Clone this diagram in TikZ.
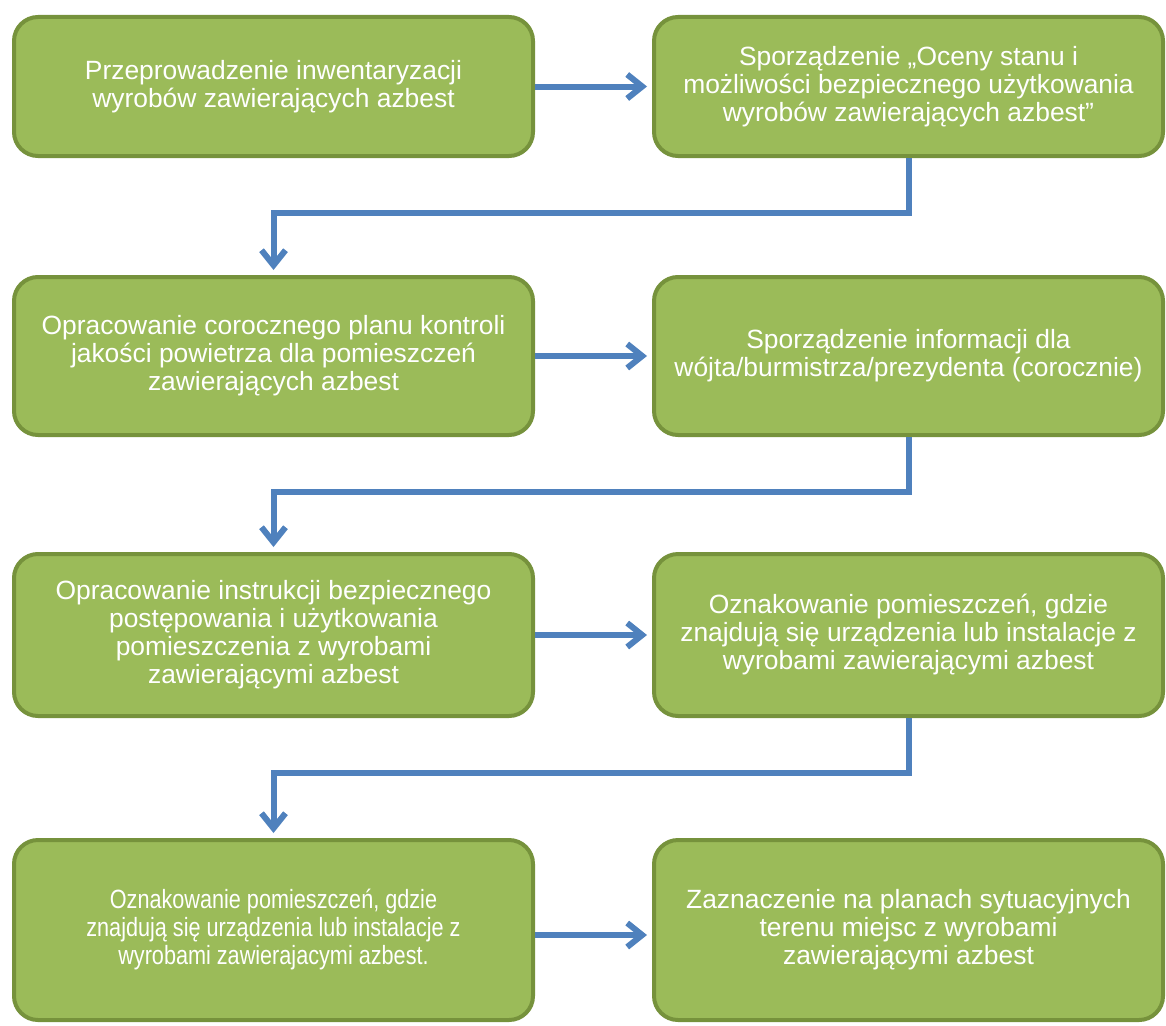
\documentclass[tikz,border=0pt]{standalone}
\usepackage{fontspec}
\setmainfont{Liberation Sans}
\newfontfamily\narrowfont[FakeStretch=0.82]{Liberation Sans}
\usetikzlibrary{arrows.meta}

\definecolor{boxfill}{HTML}{9BBB59}
\definecolor{boxline}{HTML}{76923C}
\definecolor{arrblue}{HTML}{4F81BD}

\begin{document}
\begin{tikzpicture}[
    x=1pt, y=-1pt,
    stepbox/.style={draw=boxline, fill=boxfill, line width=4pt, rounded corners=24pt,
        text=white, align=center, inner sep=0pt,
        font=\fontsize{26.4}{28}\selectfont},
    leftbox/.style={stepbox, minimum width=519pt},
    rightbox/.style={stepbox, minimum width=509pt},
    arr/.style={draw=arrblue, line width=6pt, shorten >=5pt,
        -{Straight Barb[length=15pt,width=24pt]}}
]
\useasboundingbox (0,0) rectangle (1166,1025);

% Row 1
\node[leftbox, minimum height=139pt] (invent) at (273.5,86.5)
    {Przeprowadzenie inwentaryzacji\\wyrobów zawierających azbest};
\node[rightbox, minimum height=139pt] (ocena) at (908.5,86.5)
    {Sporządzenie „Oceny stanu i\\możliwości bezpiecznego użytkowania\\wyrobów zawierających azbest”};

% Row 2
\node[leftbox, minimum height=158pt] (plan) at (273.5,356)
    {Opracowanie corocznego planu kontroli\\jakości powietrza dla pomieszczeń\\zawierających azbest};
\node[rightbox, minimum height=158pt] (info) at (908.5,356)
    {Sporządzenie informacji dla\\wójta/burmistrza/prezydenta (corocznie)};

% Row 3
\node[leftbox, minimum height=162pt] (instr) at (273.5,635)
    {Opracowanie instrukcji bezpiecznego\\postępowania i użytkowania\\pomieszczenia z wyrobami\\zawierającymi azbest};
\node[rightbox, minimum height=162pt] (oznak) at (908.5,635)
    {Oznakowanie pomieszczeń, gdzie\\znajdują się urządzenia lub instalacje z\\wyrobami zawierającymi azbest};

% Row 4
\node[leftbox, minimum height=180pt, font=\narrowfont\fontsize{26.4}{28}\selectfont] (oznakB) at (273.5,930)
    {Oznakowanie pomieszczeń, gdzie\\znajdują się urządzenia lub instalacje z\\wyrobami zawierajacymi azbest.};
\node[rightbox, minimum height=180pt] (plany) at (908.5,930)
    {Zaznaczenie na planach sytuacyjnych\\terenu miejsc z wyrobami\\zawierającymi azbest};

% Arrows
\draw[arr] (invent) -- (ocena);
\draw[arr] (ocena.south) -- ++(0,55) -| (plan.north);
\draw[arr] (plan) -- (info);
\draw[arr] (info.south) -- ++(0,55) -| (instr.north);
\draw[arr] (instr) -- (oznak);
\draw[arr] (oznak.south) -- ++(0,55) -| (oznakB.north);
\draw[arr] ([yshift=-5pt]oznakB.east) -- ([yshift=-5pt]plany.west);

\end{tikzpicture}
\end{document}
